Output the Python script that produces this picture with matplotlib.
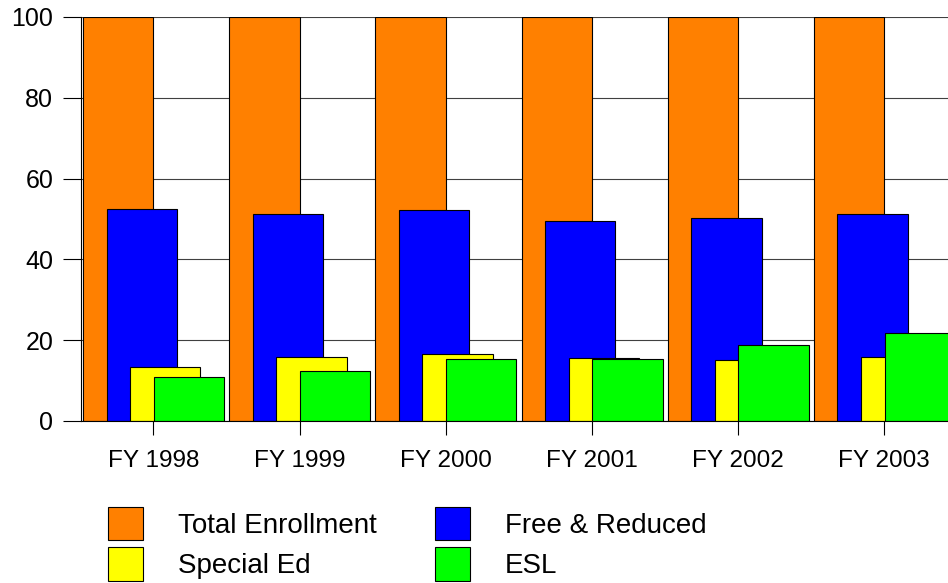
import matplotlib.pyplot as plt
import numpy as np
from matplotlib.patches import Patch

plt.rcParams['font.family'] = ['Liberation Sans', 'DejaVu Sans']

# data
years = ['FY 1998', 'FY 1999', 'FY 2000', 'FY 2001', 'FY 2002', 'FY 2003']
total_enrollment = [100, 100, 100, 100, 100, 100]
free_reduced = [52.4, 51.2, 52.2, 49.6, 50.3, 51.3]
special_ed = [13.4, 15.8, 16.5, 15.6, 15.1, 15.9]
esl = [11.0, 12.5, 15.3, 15.3, 18.7, 21.9]

series = [
    ('Total Enrollment', total_enrollment, '#FF8000'),
    ('Free & Reduced', free_reduced, '#0000FF'),
    ('Special Ed', special_ed, '#FFFF00'),
    ('ESL', esl, '#00FF00'),
]

fig = plt.figure(figsize=(9.48, 5.83), dpi=100)
ax = fig.add_axes([81 / 948, 162 / 583, 867 / 948, 404 / 583])

x = np.arange(len(years))
w = 0.481
step = 0.161
for k, (name, vals, col) in enumerate(series):
    ax.bar(x - w + k * step, vals, width=w, align='edge', color=col,
           edgecolor='black', linewidth=0.8, zorder=2 + k)

ax.set_ylim(0, 100)
ax.set_xlim(-0.495, 5.436)
ax.set_yticks([0, 20, 40, 60, 80, 100])
ax.set_xticks(x)
ax.set_xticklabels(years)

ax.yaxis.grid(True, color='#404040', linewidth=0.8, zorder=0)
ax.set_axisbelow(True)

ax.tick_params(axis='y', direction='out', length=13, width=0.8, pad=7,
               labelsize=18)
ax.tick_params(axis='x', direction='out', length=10, width=0.8, pad=11,
               labelsize=17.5)

for s in ['top', 'right']:
    ax.spines[s].set_visible(False)
for s in ['left', 'bottom']:
    ax.spines[s].set_linewidth(0.8)
    ax.spines[s].set_zorder(10)

# legend
handles = [Patch(facecolor=c, edgecolor='black', linewidth=0.8, label=n)
           for n, v, c in series]
order = [0, 2, 1, 3]
fig.legend([handles[i] for i in order], [series[i][0] for i in order],
           loc='upper left', bbox_to_anchor=(108 / 948, 1 - 507 / 583),
           ncol=2, frameon=False, fontsize=20, borderpad=0, borderaxespad=0,
           handlelength=1.26, handleheight=1.47, handletextpad=1.26,
           labelspacing=0.25, columnspacing=2.1)

plt.savefig('out.png', dpi=100)
